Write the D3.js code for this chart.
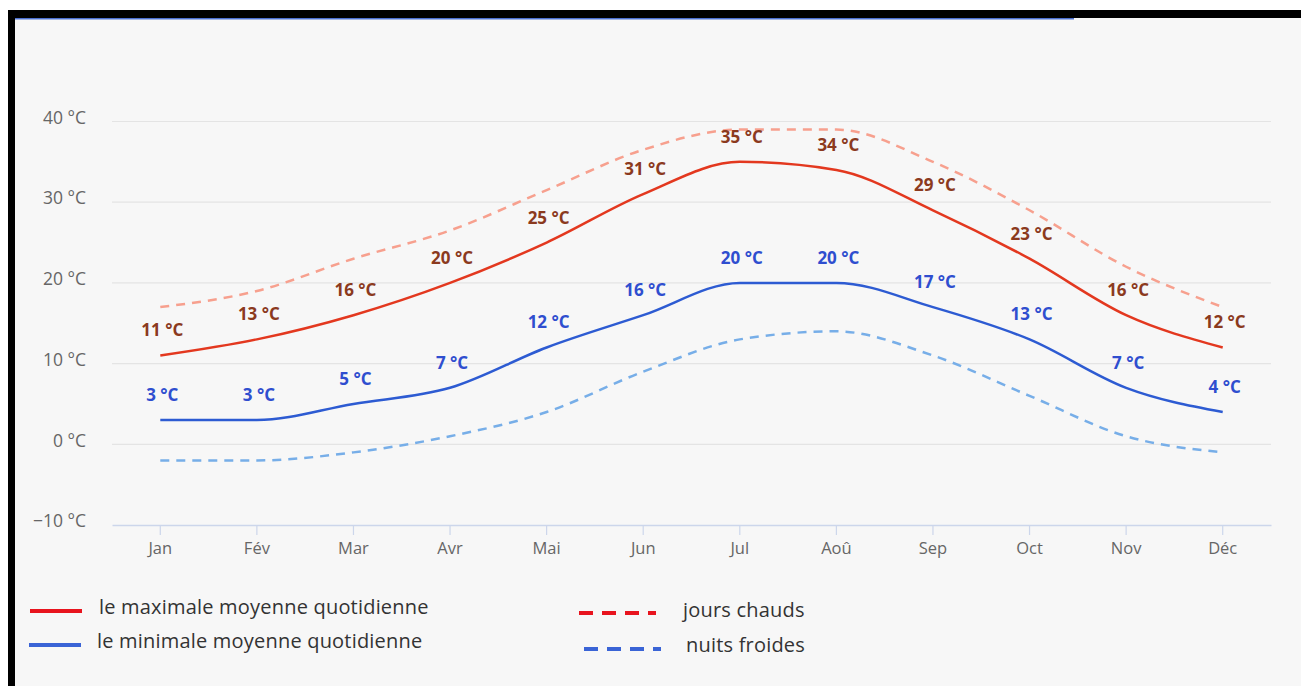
<!DOCTYPE html>
<html>
<head>
<meta charset="utf-8">
<script src="https://cdn.jsdelivr.net/npm/d3@7"></script>
<style>
  html, body { margin: 0; padding: 0; background: #ffffff; }
  svg { display: block; }
</style>
</head>
<body>
<svg id="chart" width="1301" height="686"></svg>
<script>
// Monthly temperatures (°C)
const months = ["Jan", "Fév", "Mar", "Avr", "Mai", "Jun", "Jul", "Aoû", "Sep", "Oct", "Nov", "Déc"];
const maxAvg = [11, 13, 16, 20, 25, 31, 35, 34, 29, 23, 16, 12];
const minAvg = [3, 3, 5, 7, 12, 16, 20, 20, 17, 13, 7, 4];
const hotDays = [17, 19, 23, 26.5, 31.5, 36.5, 39, 39, 35, 29, 22, 17];
const coldNights = [-2, -2, -1, 1, 4, 9, 13, 14, 11, 6, 1, -1];
const yTicks = [-10, 0, 10, 20, 30, 40];
const legendLabels = ["le maximale moyenne quotidienne", "le minimale moyenne quotidienne", "jours chauds", "nuits froides"];

const svg = d3.select("#chart");
const W = 1301, H = 686;

// Frame: background panel with dark top and left borders
svg.append("rect").attr("x", 0).attr("y", 0).attr("width", W).attr("height", H).attr("fill", "#ffffff");
svg.append("rect").attr("x", 8).attr("y", 10).attr("width", W - 8).attr("height", H - 10).attr("fill", "#f7f7f7");
svg.append("rect").attr("x", 8).attr("y", 10).attr("width", W - 8).attr("height", 8).attr("fill", "#000");
svg.append("rect").attr("x", 8).attr("y", 10).attr("width", 7).attr("height", H - 10).attr("fill", "#000");
svg.append("rect").attr("x", 15).attr("y", 18).attr("width", 1059).attr("height", 1.5).attr("fill", "#4a6fd0");

const plot = { left: 112, right: 1271, top: 121.5, bottom: 525 };

const x = d3.scaleBand().domain(months).range([plot.left, plot.right]);
const cx = m => x(m) + x.bandwidth() / 2;
const y = d3.scaleLinear().domain([-10, 40]).range([plot.bottom, plot.top]);

// Horizontal grid lines
svg.append("g").selectAll("line").data(yTicks.filter(t => t !== -10)).join("line")
  .attr("x1", plot.left).attr("x2", plot.right)
  .attr("y1", d => y(d)).attr("y2", d => y(d))
  .attr("stroke", "#e4e4e4").attr("stroke-width", 1.2);

// Y axis labels
const yAxis = d3.axisLeft(y).tickValues(yTicks).tickSize(0).tickPadding(0)
  .tickFormat(d => (d < 0 ? "\u221210" : d) + " °C");
const gy = svg.append("g").attr("transform", `translate(86,0)`).call(yAxis);
gy.select(".domain").remove();
gy.selectAll("text")
  .attr("fill", "#666").attr("font-family", "'Open Sans', sans-serif").attr("font-size", 17.5)
  .attr("dy", "0.1em");

// X axis
const xAxis = d3.axisBottom(x).tickSize(10).tickSizeOuter(0).tickPadding(7);
const gx = svg.append("g").attr("transform", `translate(0,${plot.bottom})`).call(xAxis);
gx.select(".domain").attr("stroke", "#ccd6eb").attr("stroke-width", 1.5);
gx.selectAll(".tick line").attr("stroke", "#ccd6eb").attr("stroke-width", 1.2);
gx.selectAll("text")
  .attr("fill", "#666").attr("font-family", "'Open Sans', sans-serif").attr("font-size", 16.5);

const line = d3.line().x((d, i) => cx(months[i])).y(d => y(d)).curve(d3.curveMonotoneX);

// Series
const series = [
  { data: hotDays, color: "#f7a08e", dash: "9,7", width: 2.5 },
  { data: coldNights, color: "#77aee8", dash: "9,7", width: 2.5 },
  { data: maxAvg, color: "#e3381f", dash: null, width: 2.5 },
  { data: minAvg, color: "#2d5bd2", dash: null, width: 2.5 }
];
svg.append("g").selectAll("path").data(series).join("path")
  .attr("d", s => line(s.data))
  .attr("fill", "none")
  .attr("stroke", s => s.color)
  .attr("stroke-width", s => s.width)
  .attr("stroke-dasharray", s => s.dash)
  .attr("stroke-linecap", "butt");

// Value labels
function valueLabels(data, color) {
  svg.append("g").selectAll("text").data(data).join("text")
    .attr("x", (d, i) => cx(months[i]) + 2)
    .attr("y", d => y(d) - 25)
    .attr("dy", "0.35em")
    .attr("text-anchor", "middle")
    .attr("font-family", "'Open Sans', sans-serif")
    .attr("font-weight", "bold")
    .attr("font-size", 17)
    .attr("fill", color)
    .text(d => d + " °C");
}
valueLabels(maxAvg, "#8b3a1e");
valueLabels(minAvg, "#2f4ecf");

// Legend
const legendItems = [
  { label: legendLabels[0], color: "#e8141e", dash: null, x1: 30, x2: 82, ly: 611, tx: 99, ty: 607 },
  { label: legendLabels[1], color: "#3a64d6", dash: null, x1: 29, x2: 81, ly: 645, tx: 97, ty: 641 },
  { label: legendLabels[2], color: "#e8141e", dash: "14,9", x1: 579, x2: 656, ly: 613, tx: 683, ty: 610 },
  { label: legendLabels[3], color: "#3a64d6", dash: "14,9", x1: 584, x2: 661, ly: 649, tx: 686, ty: 645 }
];
const lg = svg.append("g");
lg.selectAll("line").data(legendItems).join("line")
  .attr("x1", d => d.x1).attr("x2", d => d.x2)
  .attr("y1", d => d.ly).attr("y2", d => d.ly)
  .attr("stroke", d => d.color).attr("stroke-width", 4)
  .attr("stroke-dasharray", d => d.dash);
lg.selectAll("text").data(legendItems).join("text")
  .attr("x", d => d.tx).attr("y", d => d.ty).attr("dy", "0.35em")
  .attr("font-family", "'Open Sans', sans-serif").attr("font-size", 20)
  .attr("letter-spacing", 0.2)
  .attr("fill", "#333")
  .text(d => d.label);
</script>
</body>
</html>
